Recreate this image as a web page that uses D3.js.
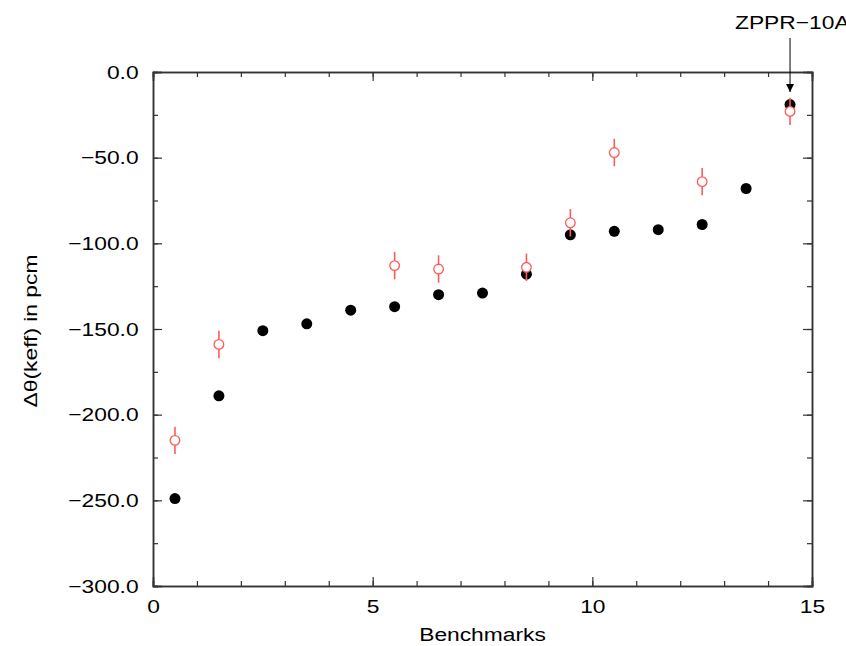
<!DOCTYPE html>
<html>
<head>
<meta charset="utf-8">
<script src="https://cdn.jsdelivr.net/npm/d3@7"></script>
<style>
body { margin: 0; background: #fff; }
text { font-family: "Liberation Sans", Arial, sans-serif; }
</style>
</head>
<body>
<div id="screen"></div>
<script>
//calculated values (black dots)
var calcX = [0.5, 1.5, 2.5, 3.5, 4.5, 5.5, 6.5, 7.5, 8.5, 9.5, 10.5, 11.5, 12.5, 13.5, 14.5]
var calcY = [-249, -189, -151, -147, -139, -137, -130, -129, -118, -95, -93, -92, -89, -68, -19]

//measured values with error (open red)
var measX = [0.5, 1.5, 5.5, 6.5, 8.5, 9.5, 10.5, 12.5, 14.5]
var measY = [-215, -159, -113, -115, -114, -88, -47, -64, -23]
var measErr = [8, 8, 8, 8, 8, 8, 8, 8, 8]

var yTicks = [0, -50, -100, -150, -200, -250, -300]
var xTicks = [0, 5, 10, 15]

var W = 846, H = 646
var mLeft = 153, mRight = 812, mTop = 72, mBottom = 586
var FS = 19, SX = 1.2   //font size and the horizontal stretch of the original

var svg = d3.select("#screen").append("svg")
    .attr("width", W).attr("height", H)

var x = d3.scaleLinear().domain([0, 15]).range([mLeft, mRight])
var y = d3.scaleLinear().domain([-300, 0]).range([mBottom, mTop])

//frame axes, ticks pointing inward on all sides
function frameAxis(axis, tx, ty){
    var g = svg.append("g").attr("transform", "translate(" + tx + "," + ty + ")").call(axis)
    g.select(".domain").attr("stroke", "#333").attr("stroke-width", 1.5)
    g.selectAll(".tick line").attr("stroke", "#333").attr("stroke-width", 1.2)
    g.selectAll("text").attr("font-size", FS).attr("fill", "#000")
        .attr("font-family", "Liberation Sans, Arial, sans-serif")
    return g
}

var minorX = d3.range(0, 16, 1), minorY = d3.range(-300, 1, 25)

frameAxis(d3.axisBottom(x).tickValues(minorX).tickSize(-5).tickFormat(""), 0, mBottom)
frameAxis(d3.axisTop(x).tickValues(minorX).tickSize(-5).tickFormat(""), 0, mTop)
frameAxis(d3.axisLeft(y).tickValues(minorY).tickSize(-5).tickFormat(""), mLeft, 0)
frameAxis(d3.axisRight(y).tickValues(minorY).tickSize(-5).tickFormat(""), mRight, 0)

var xb = frameAxis(d3.axisBottom(x).tickValues(xTicks).tickSize(-9).tickPadding(14).tickFormat(d3.format("d")), 0, mBottom)
xb.selectAll("text").attr("transform", "scale(" + SX + ",1)")
frameAxis(d3.axisTop(x).tickValues(xTicks).tickSize(-9).tickFormat(""), 0, mTop)
var yl = frameAxis(d3.axisLeft(y).tickValues(yTicks).tickSize(-9).tickPadding(12)
    .tickFormat(function(d){ return d3.format(".1f")(d).replace("-", "\u2212") }), mLeft, 0)
yl.selectAll("text").attr("transform", "scale(" + SX + ",1)")
frameAxis(d3.axisRight(y).tickValues(yTicks).tickSize(-9).tickFormat(""), mRight, 0)

//stretched text helper
function label(tx, ty, rot, anchor, str){
    return svg.append("text")
        .attr("transform", "translate(" + tx + "," + ty + ") rotate(" + rot + ") scale(" + SX + ",1)")
        .attr("text-anchor", anchor).attr("font-size", FS).attr("fill", "#000").text(str)
}

//axis titles
label((mLeft + mRight) / 2, 641, 0, "middle", "Benchmarks")
label(37, 331, -90, "middle", "\u0394\u03b8(keff) in pcm")

//black dots
svg.selectAll("circle.calc")
    .data(calcX.map(function(d, i){ return [d, calcY[i]] }))
    .enter().append("circle").attr("class", "calc")
    .attr("cx", d => x(d[0])).attr("cy", d => y(d[1]))
    .attr("r", 5.5).attr("fill", "#000")

//red error bars and open circles
var meas = measX.map(function(d, i){ return [d, measY[i], measErr[i]] })
svg.selectAll("line.err").data(meas).enter().append("line").attr("class", "err")
    .attr("x1", d => x(d[0])).attr("x2", d => x(d[0]))
    .attr("y1", d => y(d[1] + d[2])).attr("y2", d => y(d[1] - d[2]))
    .attr("stroke", "#ff5a5a").attr("stroke-width", 1.6)
svg.selectAll("circle.meas").data(meas).enter().append("circle").attr("class", "meas")
    .attr("cx", d => x(d[0])).attr("cy", d => y(d[1]))
    .attr("r", 4.8).attr("fill", "#fff").attr("stroke", "#ff5a5a").attr("stroke-width", 1.3)

//annotation
svg.append("defs").append("marker").attr("id", "arr")
    .attr("viewBox", "0 0 10 10").attr("refX", 10).attr("refY", 5)
    .attr("markerWidth", 8).attr("markerHeight", 8).attr("orient", "auto")
    .append("path").attr("d", "M0,0 L10,5 L0,10 z").attr("fill", "#000")
svg.append("line").attr("x1", x(14.5)).attr("x2", x(14.5)).attr("y1", 38).attr("y2", 92)
    .attr("stroke", "#000").attr("stroke-width", 1).attr("marker-end", "url(#arr)")
label(735, 29, 0, "start", "ZPPR\u221210A")
</script>
</body>
</html>
